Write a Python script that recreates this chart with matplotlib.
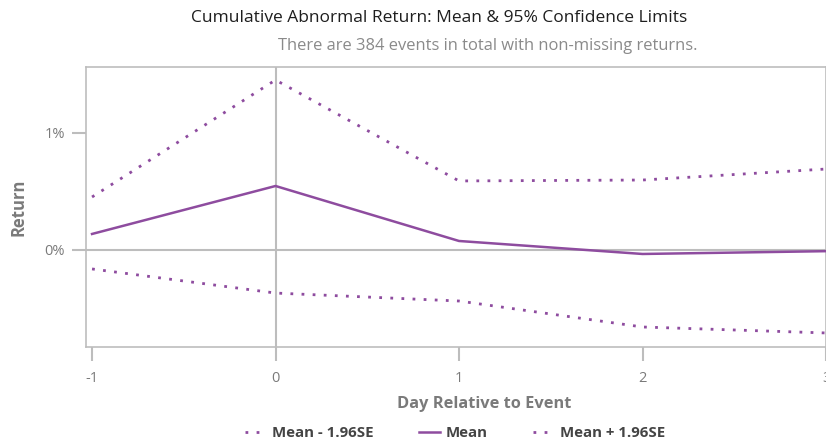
import numpy as np
import matplotlib.pyplot as plt
from matplotlib.lines import Line2D

plt.rcParams['font.family'] = ['Open Sans', 'DejaVu Sans']

days = [-1, 0, 1, 2, 3]
mean = [0.137, 0.547, 0.077, -0.034, -0.010]
upper = [0.453, 1.453, 0.590, 0.598, 0.692]
lower = [-0.162, -0.368, -0.436, -0.658, -0.709]
yticks = [0, 1]

purple = "#8e4c9f"
grey = "#bdbdbd"
textgrey = "#7a7a7a"

fig = plt.figure(figsize=(8.26, 4.43), dpi=100)
ax = fig.add_axes([0.1041, 0.2167, 0.8959, 0.6321])

ax.axhline(0, color=grey, lw=1.5, zorder=1)
ax.axvline(0, color=grey, lw=1.5, zorder=1)

ax.plot(days, lower, color=purple, lw=2, ls=(0, (1, 3)), zorder=3)
ax.plot(days, mean, color=purple, lw=1.8, zorder=3)
ax.plot(days, upper, color=purple, lw=2, ls=(0, (1, 3)), zorder=3)

ax.set_xlim(-1.033, 3.0)
ax.set_ylim(-0.829, 1.564)
ax.set_xticks(days)
ax.set_xticklabels([str(d) for d in days])
ax.set_yticks(yticks)
ax.set_yticklabels([f"{v}%" for v in yticks])

for s in ax.spines.values():
    s.set_color(grey)
    s.set_linewidth(1.2)
ax.tick_params(axis='both', colors=grey, width=1.5, length=10, labelcolor=textgrey, labelsize=10.5)
ax.tick_params(axis='x', pad=7)
ax.tick_params(axis='y', pad=5)

ax.set_ylabel("Return", fontsize=12, fontweight='bold', color=textgrey, labelpad=12)
fig.text(484/826, 1 - 404/443, "Day Relative to Event", ha='center', va='center',
         fontsize=11.8, fontweight='bold', color=textgrey)

fig.text(439/826, 1 - 18/443, "Cumulative Abnormal Return: Mean & 95% Confidence Limits",
         ha='center', va='center', fontsize=12.5, color="#1e1e1e")
fig.text(488/826, 1 - 46/443, "There are 384 events in total with non-missing returns.",
         ha='center', va='center', fontsize=11.9, color="#8a8a8a")

handles = [
    Line2D([], [], color=purple, lw=2, ls=(0, (1, 3))),
    Line2D([], [], color=purple, lw=1.8),
    Line2D([], [], color=purple, lw=2, ls=(0, (1, 3))),
]
labels = ["Mean - 1.96SE", "Mean", "Mean + 1.96SE"]
fig.legend(handles, labels, loc='center', bbox_to_anchor=(455/826, 1 - 433/443), ncol=3,
           frameon=False, handlelength=1.4, handletextpad=0.4, columnspacing=3.0,
           prop={'weight': 'bold', 'size': 10.8}, labelcolor="#444444")

fig.savefig("out.png", dpi=100)
